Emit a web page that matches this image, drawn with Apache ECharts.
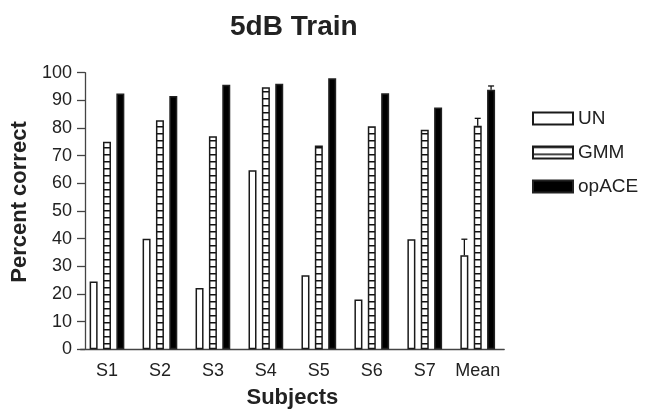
<!DOCTYPE html>
<html>
<head>
<meta charset="utf-8">
<script src="https://cdn.jsdelivr.net/npm/echarts@6/dist/echarts.min.js"></script>
<style>
  html, body { margin: 0; padding: 0; background: #fff; }
  #chart { width: 650px; height: 409px; }
</style>
</head>
<body>
<div id="chart"></div>
<script>
// Subjects on the x axis, percent correct per condition
const categories = ['S1', 'S2', 'S3', 'S4', 'S5', 'S6', 'S7', 'Mean'];
const unValues = [24.5, 40.0, 22.2, 64.7, 26.8, 18.0, 39.8, 34.0];
const gmmValues = [75.0, 82.8, 77.0, 94.7, 73.7, 80.6, 79.4, 80.8];
const opaceValues = [92.5, 91.6, 95.6, 96.0, 98.0, 92.6, 87.4, 93.8];
// upper error bar lengths for the Mean group: UN, GMM, opACE
const meanErrors = [5.8, 2.7, 1.4];
const yTicks = [0, 10, 20, 30, 40, 50, 60, 70, 80, 90, 100];

const FONT = 'Liberation Sans, Arial, Helvetica, sans-serif';
const INK = '#1a1a1a';
const BAR_W = 8;
const BAR_GAP = 0.67;

// ladder fill: white with thin horizontal rungs
function ladderPattern() {
  const c = document.createElement('canvas');
  c.width = 8; c.height = 7;
  const g = c.getContext('2d');
  g.fillStyle = '#fff';
  g.fillRect(0, 0, 8, 7);
  g.fillStyle = '#111';
  g.fillRect(0, 0, 8, 1.5);
  return c;
}

const meanIdx = categories.indexOf('Mean');
const seriesValues = [unValues, gmmValues, opaceValues];
const errorData = meanErrors.map((e, s) => [meanIdx, seriesValues[s][meanIdx], e, s]);

const chart = echarts.init(document.getElementById('chart'), null, { renderer: 'canvas' });

chart.setOption({
  backgroundColor: '#fff',
  animation: false,
  title: {
    text: '5dB Train',
    left: 230,
    top: 13,
    padding: 0,
    textStyle: { fontFamily: FONT, fontSize: 28, fontWeight: 'bold', color: '#222' }
  },
  legend: {
    data: ['UN', 'GMM', 'opACE'],
    orient: 'vertical',
    left: 532,
    top: 109,
    padding: 0,
    icon: 'rect',
    itemWidth: 40,
    itemHeight: 12,
    itemGap: 15,
    selectedMode: false,
    textStyle: { fontFamily: FONT, fontSize: 19, color: '#222' }
  },
  grid: {
    left: 80.5, right: 145.8, top: 72.7, bottom: 59.7,
    containLabel: false,
    outerBoundsMode: 'none'
  },
  xAxis: {
    type: 'category',
    data: categories,
    name: 'Subjects',
    nameLocation: 'middle',
    nameGap: 38,
    nameTextStyle: { fontFamily: FONT, fontSize: 22, fontWeight: 'bold', color: '#222' },
    axisLine: { lineStyle: { color: '#444', width: 1.3 } },
    axisTick: { show: false },
    axisLabel: { interval: 0, fontFamily: FONT, fontSize: 18, color: '#222', margin: 13 }
  },
  yAxis: {
    type: 'value',
    min: yTicks[0],
    max: yTicks[yTicks.length - 1],
    interval: yTicks[1] - yTicks[0],
    offset: -4.5,
    name: 'Percent correct',
    nameLocation: 'middle',
    nameGap: 46,
    nameTextStyle: {
      fontFamily: FONT, fontSize: 22, fontWeight: 'bold', color: '#222',
      padding: [0, 0, 0, 18]
    },
    splitLine: { show: false },
    axisLine: { show: true, lineStyle: { color: '#444', width: 1.3 } },
    axisTick: { show: true, length: 8, lineStyle: { color: '#444', width: 1.3 } },
    axisLabel: { fontFamily: FONT, fontSize: 18, color: '#222', margin: 13 }
  },
  series: [
    {
      name: 'UN', type: 'bar', data: unValues,
      barWidth: BAR_W, barGap: (BAR_GAP * 100) + '%',
      itemStyle: { color: '#fff', borderColor: INK, borderWidth: 1.5 }
    },
    {
      name: 'GMM', type: 'bar', data: gmmValues,
      barWidth: BAR_W, barGap: (BAR_GAP * 100) + '%',
      itemStyle: { color: { image: ladderPattern(), repeat: 'repeat' }, borderColor: INK, borderWidth: 1.5 }
    },
    {
      name: 'opACE', type: 'bar', data: opaceValues,
      barWidth: BAR_W, barGap: (BAR_GAP * 100) + '%',
      itemStyle: { color: '#000', borderColor: '#222', borderWidth: 1.5 }
    },
    {
      name: 'error', type: 'custom', z: 5,
      data: errorData,
      encode: { x: 0, y: 1 },
      renderItem: function (params, api) {
        const cat = api.value(0), val = api.value(1), err = api.value(2), s = api.value(3);
        const base = api.coord([cat, val]);
        const top = api.coord([cat, val + err])[1];
        const step = BAR_W * (1 + BAR_GAP);
        const x = base[0] + (s - 1) * step;
        const st = { stroke: '#111', lineWidth: 1.3 };
        return {
          type: 'group',
          children: [
            { type: 'line', shape: { x1: x, y1: base[1], x2: x, y2: top }, style: st },
            { type: 'line', shape: { x1: x - 3, y1: top, x2: x + 3, y2: top }, style: st }
          ]
        };
      }
    }
  ]
});
</script>
</body>
</html>
